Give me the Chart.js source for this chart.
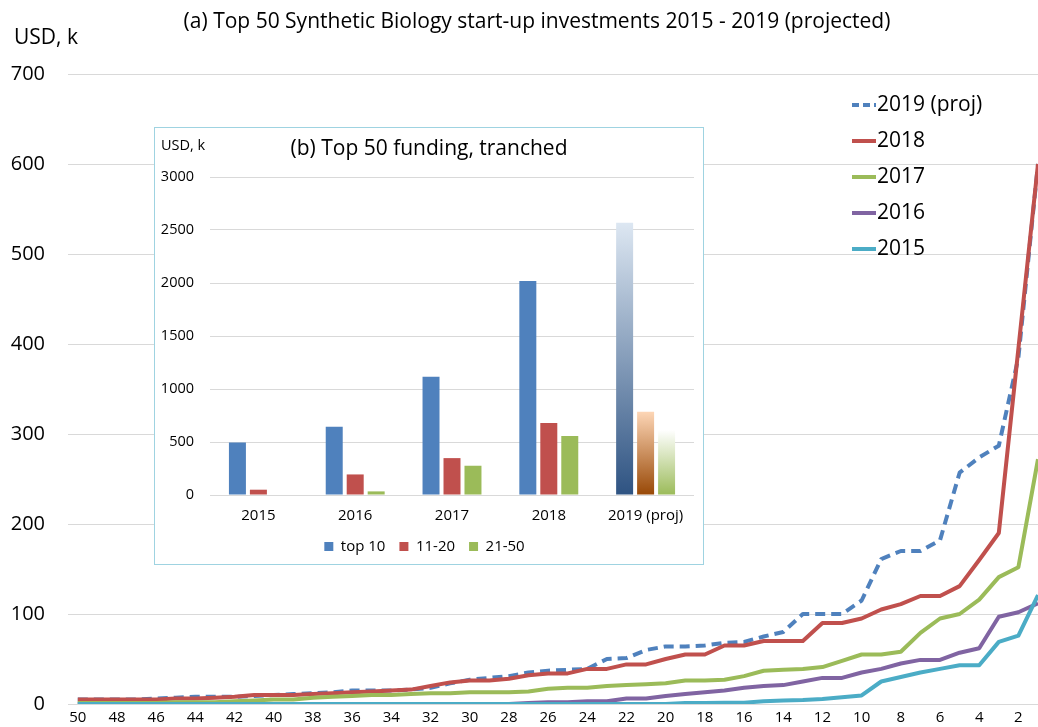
<!DOCTYPE html>
<html>
<head>
<meta charset="utf-8">
<title>Top 50 Synthetic Biology start-up investments</title>
<script src="https://cdn.jsdelivr.net/npm/chart.js@4.4.1/dist/chart.umd.min.js"></script>
<style>
  html, body { margin: 0; padding: 0; background: #fff; }
  #wrap { position: relative; width: 1038px; height: 727px; overflow: hidden; }
  #mainChart { position: absolute; left: 0; top: 0; }
  #inset {
    position: absolute; left: 154px; top: 127px;
    width: 550px; height: 438px; box-sizing: border-box;
    border: 1px solid #9fd3e1; background: #fff;
  }
  #inset canvas { display: block; }
</style>
</head>
<body>
<div id="wrap">
  <!-- canvas is a bit taller than the window: the spare strip under the x labels falls outside -->
  <canvas id="mainChart" width="1038" height="739"></canvas>
  <div id="inset"><canvas id="insetChart" width="548" height="436"></canvas></div>
</div>
<script>
// ---- (a) main chart data: rank 50 (left) down to rank 1 (right) ----
const ranks = [50, 49, 48, 47, 46, 45, 44, 43, 42, 41, 40, 39, 38, 37, 36, 35, 34, 33, 32, 31,
               30, 29, 28, 27, 26, 25, 24, 23, 22, 21, 20, 19, 18, 17, 16, 15, 14, 13, 12, 11,
               10, 9, 8, 7, 6, 5, 4, 3, 2, 1];
const rankTicks = [50, 48, 46, 44, 42, 40, 38, 36, 34, 32, 30, 28, 26, 24, 22, 20, 18, 16, 14, 12, 10, 8, 6, 4, 2];

const inv2019 = [5, 5, 5, 5, 6, 7, 8, 8, 8, 9, 10, 11, 12, 13, 15, 15, 15, 16, 18, 23,
                 27, 29, 31, 35, 37, 38, 39, 50, 51, 60, 64, 64, 65, 68, 69, 75, 80, 100, 100, 100,
                 115, 161, 170, 170, 182, 257, 274, 287, 385, 600];
const inv2018 = [5, 5, 5, 5, 5, 6, 6, 7, 8, 10, 10, 10, 11, 12, 13, 14, 15, 16, 20, 24,
                 26, 26, 28, 32, 34, 34, 39, 39, 44, 44, 50, 55, 55, 65, 65, 70, 70, 70, 90, 90,
                 95, 105, 111, 120, 120, 131, 160, 190, 395, 600];
const inv2017 = [1, 1, 1, 1, 1, 2, 2, 2, 3, 4, 5, 5, 7, 8, 9, 10, 10, 11, 12, 12,
                 13, 13, 13, 14, 17, 18, 18, 20, 21, 22, 23, 26, 26, 27, 31, 37, 38, 39, 41, 48,
                 55, 55, 58, 79, 95, 100, 116, 141, 152, 272];
const inv2016 = [0, 0, 0, 0, 0, 0, 0, 0, 0, 0, 0, 0, 0, 0, 0, 0, 0, 0, 0, 0,
                 0, 0, 0, 1, 2, 2, 3, 3, 6, 6, 9, 11, 13, 15, 18, 20, 21, 25, 29, 29,
                 35, 39, 45, 49, 49, 57, 62, 97, 102, 112];
const inv2015 = [0, 0, 0, 0, 0, 0, 0, 0, 0, 0, 0, 0, 0, 0, 0, 0, 0, 0, 0, 0,
                 0, 0, 0, 0, 0, 0, 0, 0, 0, 0, 0, 1, 1, 1.5, 1.5, 3, 4, 4.5, 5.5, 7.5,
                 9.5, 25, 30, 35, 39, 43, 43, 69, 76, 121];

// ---- (b) inset data ----
const insetYears = ['2015', '2016', '2017', '2018', '2019 (proj)'];
const top10 = [495, 645, 1115, 2020, 2568];
const rank11to20 = [50, 194, 348, 680, 786];
const rank21to50 = [0, 34, 276, 557, 614];

Chart.defaults.font.family = "'Open Sans', sans-serif";
Chart.defaults.color = '#000';

const toPoints = vals => ranks.map((r, i) => ({ x: r, y: vals[i] }));

const seriesMeta = [
  { label: '2019 (proj)', data: inv2019, color: '#4f81bd', dash: [10, 6], order: 5 },
  { label: '2018', data: inv2018, color: '#c0504d', dash: [], order: 4 },
  { label: '2017', data: inv2017, color: '#9bbb59', dash: [], order: 3 },
  { label: '2016', data: inv2016, color: '#8064a2', dash: [], order: 2 },
  { label: '2015', data: inv2015, color: '#4bacc6', dash: [], order: 1 }
];

// title, axis caption and legend for the main chart
const mainDecor = {
  id: 'mainDecor',
  afterDraw(chart) {
    const ctx = chart.ctx;
    ctx.save();
    ctx.fillStyle = '#000';
    ctx.textBaseline = 'middle';
    ctx.font = "21px 'Open Sans', sans-serif";
    ctx.textAlign = 'center';
    ctx.fillText('(a) Top 50 Synthetic Biology start-up investments 2015 - 2019 (projected)', 537, 22);
    ctx.textAlign = 'left';
    ctx.fillText('USD, k', 14, 38);

    seriesMeta.forEach((s, i) => {
      const y = 105 + i * 36;
      ctx.strokeStyle = s.color;
      ctx.lineWidth = 4;
      ctx.setLineDash(s.dash.length ? [7, 4] : []);
      ctx.beginPath();
      ctx.moveTo(852, y);
      ctx.lineTo(876, y);
      ctx.stroke();
      ctx.setLineDash([]);
      ctx.fillText(s.label, 877, y);
    });
    ctx.restore();
  }
};

new Chart(document.getElementById('mainChart'), {
  type: 'line',
  data: {
    datasets: seriesMeta.map(s => ({
      label: s.label,
      data: toPoints(s.data),
      borderColor: s.color,
      backgroundColor: s.color,
      borderWidth: 4,
      borderDash: s.dash,
      borderJoinStyle: 'round',
      pointRadius: 0,
      tension: 0,
      order: s.order
    }))
  },
  options: {
    responsive: false,
    animation: false,
    layout: { padding: { top: 74, right: 0, left: 0, bottom: 0 } },
    plugins: {
      legend: { display: false },
      tooltip: { enabled: false }
    },
    scales: {
      x: {
        type: 'linear',
        reverse: true,
        min: 1,
        max: 50.5,
        afterBuildTicks: scale => { scale.ticks = rankTicks.map(v => ({ value: v })); },
        grid: { display: false, drawTicks: false },
        border: { display: false },
        ticks: { font: { size: 15 }, color: '#000', padding: 5, maxRotation: 0, autoSkip: false }
      },
      y: {
        min: 0,
        max: 700,
        afterFit: scale => { scale.width = 68; },
        grid: { color: '#d9d9d9', lineWidth: 1, drawTicks: false },
        border: { display: false },
        ticks: { stepSize: 100, font: { size: 20 }, color: '#000', padding: 23 }
      }
    }
  },
  plugins: [mainDecor]
});

// 2019 (proj) bars get a vertical gradient, the rest are flat
function barFill(solid, light, dark) {
  return function (ctx) {
    if (ctx.dataIndex !== 4) return solid;
    const chart = ctx.chart;
    const y = chart.scales && chart.scales.y;
    if (!chart.chartArea || !y) return solid;
    const top = y.getPixelForValue(ctx.raw);
    const bottom = y.getPixelForValue(0);
    const g = chart.ctx.createLinearGradient(0, top, 0, bottom);
    g.addColorStop(0, light);
    g.addColorStop(1, dark);
    return g;
  };
}

const insetDecor = {
  id: 'insetDecor',
  afterDraw(chart) {
    const ctx = chart.ctx;
    ctx.save();
    ctx.fillStyle = '#000';
    ctx.textBaseline = 'middle';
    ctx.textAlign = 'center';
    ctx.font = "21px 'Open Sans', sans-serif";
    ctx.fillText('(b) Top 50 funding, tranched', 274, 21);
    ctx.textAlign = 'left';
    ctx.font = "14.5px 'Open Sans', sans-serif";
    ctx.fillText('USD, k', 6, 18);
    ctx.restore();
  }
};

new Chart(document.getElementById('insetChart'), {
  type: 'bar',
  data: {
    labels: insetYears,
    datasets: [
      { label: 'top 10', data: top10, backgroundColor: barFill('#4f81bd', '#dde7f2', '#2e5382') },
      { label: '11-20', data: rank11to20, backgroundColor: barFill('#c0504d', '#fdd6b6', '#984806') },
      { label: '21-50', data: rank21to50, backgroundColor: barFill('#9bbb59', '#ffffff', '#9bbb59') }
    ]
  },
  options: {
    responsive: false,
    animation: false,
    categoryPercentage: 0.65,
    barPercentage: 0.81,
    layout: { padding: { top: 49, right: 9, left: 0, bottom: 0 } },
    plugins: {
      legend: {
        position: 'bottom',
        labels: { boxWidth: 9, boxHeight: 9, padding: 14, font: { size: 15 }, color: '#000' }
      },
      tooltip: { enabled: false }
    },
    scales: {
      x: {
        afterFit: scale => { scale.height = 30; },
        grid: { display: false, drawTicks: false },
        border: { display: false },
        ticks: { font: { size: 15 }, color: '#000', padding: 12 }
      },
      y: {
        min: 0,
        max: 3000,
        afterFit: scale => { scale.width = 55; },
        grid: { color: '#d9d9d9', drawTicks: false },
        border: { display: false },
        ticks: { stepSize: 500, font: { size: 14.5 }, color: '#000', padding: 16, format: { useGrouping: false } }
      }
    }
  },
  plugins: [insetDecor]
});
</script>
</body>
</html>
